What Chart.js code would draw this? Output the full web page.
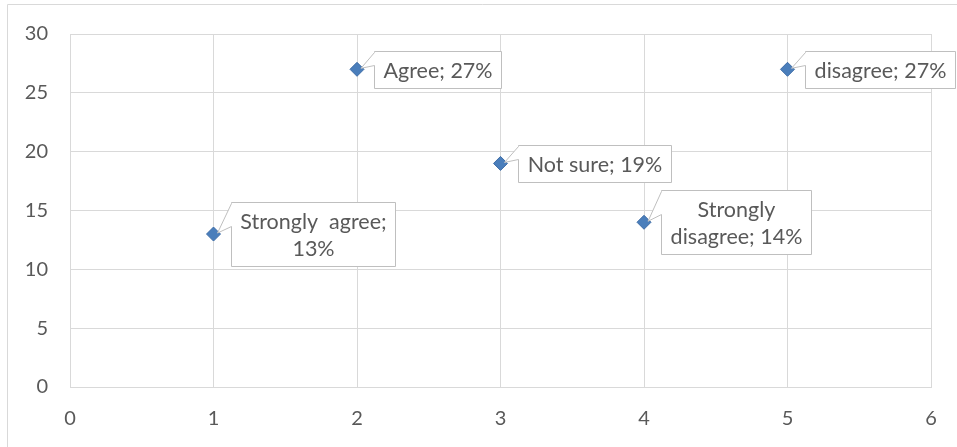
<!DOCTYPE html>
<html lang="en">
<head>
    <meta charset="UTF-8">
    <title>Survey scatter</title>
    <script src="https://cdn.jsdelivr.net/npm/chart.js"></script>
    <style>
        body {
            margin: 0;
            background-color: #fff;
        }

        .chart-container {
            width: 957px;
            height: 447px;
            position: relative;
        }
    </style>
</head>
<body>

    <div class="chart-container">
        <canvas id="scatterChart"></canvas>
    </div>

    <script>
        // data
        const categories = ['Strongly  agree', 'Agree', 'Not sure', 'Strongly\ndisagree', 'disagree'];
        const xValues = [1, 2, 3, 4, 5];
        const percentValues = [13, 27, 19, 14, 27];
        const labelSeparators = ['\n', ' ', ' ', ' ', ' '];
        const xTicks = [0, 1, 2, 3, 4, 5, 6];
        const yTicks = [0, 5, 10, 15, 20, 25, 30];

        const gridColor = '#d9d9d9';
        const textColor = '#595959';
        const fontFamily = 'Lato, "Open Sans", sans-serif';

        const points = xValues.map((x, i) => ({ x: x, y: percentValues[i] }));
        const labels = categories.map((c, i) => c + ';' + labelSeparators[i] + percentValues[i] + '%');

        // outer frame of the chart
        const framePlugin = {
            id: 'frame',
            beforeDraw(chart) {
                const ctx = chart.ctx;
                ctx.save();
                ctx.strokeStyle = gridColor;
                ctx.lineWidth = 1;
                ctx.beginPath();
                ctx.moveTo(7.5, chart.height + 5);
                ctx.lineTo(7.5, 4.5);
                ctx.lineTo(chart.width + 5, 4.5);
                ctx.stroke();
                ctx.restore();
            }
        };

        // callout boxes like the excel data labels
        const calloutPlugin = {
            id: 'callouts',
            afterDatasetsDraw(chart) {
                const ctx = chart.ctx;
                const meta = chart.getDatasetMeta(0);
                const lineHeight = 27;
                const padX = 9;
                const padY = 5;
                ctx.save();
                ctx.font = '21.5px ' + fontFamily;
                meta.data.forEach((pt, i) => {
                    const lines = labels[i].split('\n');
                    const textW = Math.max(...lines.map(l => ctx.measureText(l).width));
                    const w = Math.round(textW + padX * 2);
                    const h = lines.length * lineHeight + padY * 2;
                    const left = Math.round(pt.x + 17) + 0.5;
                    const top = Math.round(pt.y - h / 2) + 0.5;
                    const right = left + w;
                    const bottom = top + h;

                    ctx.beginPath();
                    ctx.moveTo(left, top);
                    ctx.lineTo(right, top);
                    ctx.lineTo(right, bottom);
                    ctx.lineTo(left, bottom);
                    ctx.lineTo(left, top + Math.round(h * 0.38));
                    ctx.lineTo(pt.x + 4, pt.y - 1);
                    ctx.lineTo(left, top + 1);
                    ctx.closePath();
                    ctx.fillStyle = '#fff';
                    ctx.fill();
                    ctx.strokeStyle = '#bfbfbf';
                    ctx.lineWidth = 1;
                    ctx.stroke();

                    ctx.fillStyle = textColor;
                    ctx.textAlign = 'center';
                    ctx.textBaseline = 'middle';
                    lines.forEach((l, j) => {
                        ctx.fillText(l, left + w / 2, top + padY + lineHeight * (j + 0.5) + 1);
                    });
                });
                ctx.restore();
            }
        };

        const ctx = document.getElementById('scatterChart').getContext('2d');
        new Chart(ctx, {
            type: 'scatter',
            data: {
                datasets: [{
                    label: 'Survey',
                    data: points,
                    pointStyle: 'rectRot',
                    pointRadius: 7,
                    pointHoverRadius: 7,
                    backgroundColor: '#4a7ebb',
                    borderColor: '#3d6ca6',
                    borderWidth: 1
                }]
            },
            options: {
                responsive: true,
                maintainAspectRatio: false,
                animation: false,
                layout: {
                    padding: { left: 0, top: 34, right: 26, bottom: 0 }
                },
                plugins: {
                    legend: { display: false },
                    tooltip: { enabled: false }
                },
                scales: {
                    x: {
                        type: 'linear',
                        min: xTicks[0],
                        max: xTicks[xTicks.length - 1],
                        afterBuildTicks(scale) {
                            scale.ticks = xTicks.map(v => ({ value: v }));
                        },
                        afterFit(scale) {
                            scale.height = 60;
                        },
                        grid: {
                            color: gridColor,
                            drawTicks: false
                        },
                        border: { color: gridColor },
                        ticks: {
                            padding: 20,
                            color: textColor,
                            font: { family: fontFamily, size: 20 }
                        }
                    },
                    y: {
                        min: yTicks[0],
                        max: yTicks[yTicks.length - 1],
                        afterBuildTicks(scale) {
                            scale.ticks = yTicks.map(v => ({ value: v }));
                        },
                        afterFit(scale) {
                            scale.width = 70;
                        },
                        grid: {
                            color: gridColor,
                            drawTicks: false
                        },
                        border: { color: gridColor },
                        ticks: {
                            padding: 22,
                            color: textColor,
                            font: { family: fontFamily, size: 20 }
                        }
                    }
                }
            },
            plugins: [framePlugin, calloutPlugin]
        });
    </script>

</body>
</html>
